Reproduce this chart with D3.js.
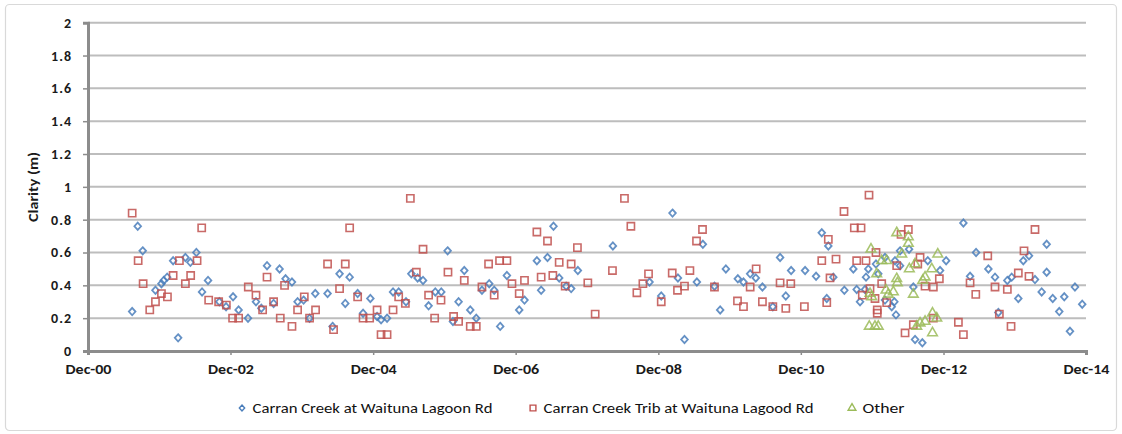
<!DOCTYPE html>
<html>
<head>
<meta charset="utf-8">
<script src="https://cdn.jsdelivr.net/npm/d3@7"></script>
<style>
  html, body { margin: 0; padding: 0; background: #fff; }
  svg { display: block; }
  text { font-family: Carlito, Lato, "Liberation Sans", sans-serif; }
</style>
</head>
<body>
<svg id="chart" width="1122" height="434"></svg>
<script>
// ---- data (dates as decimal years, values in metres) ----
const carranDates = [2001.535,2001.613,2001.683,2001.862,2001.946,2001.978,2002.026,2002.110,2002.180,2002.282,
2002.352,2002.436,2002.516,2002.600,2002.759,2002.853,2002.951,2003.029,2003.161,2003.273,
2003.348,2003.428,2003.520,2003.604,2003.688,2003.778,2003.857,2003.941,2004.025,2004.105,
2004.277,2004.347,2004.445,2004.525,2004.586,2004.698,2004.774,2004.876,2004.970,2005.026,
2005.110,2005.194,2005.273,2005.376,2005.451,2005.539,2005.615,2005.693,2005.787,2005.871,
2005.960,2006.035,2006.114,2006.194,2006.278,2006.362,2006.442,2006.544,2006.614,2006.698,
2006.792,2006.965,2007.039,2007.213,2007.273,2007.362,2007.446,2007.526,2007.624,2007.694,
2007.788,2008.279,2008.792,2008.956,2009.114,2009.190,2009.282,2009.456,2009.540,2009.703,
2009.783,2009.863,2010.031,2010.110,2010.204,2010.283,2010.376,2010.522,2010.624,2010.704,
2010.779,2010.975,2011.129,2011.209,2011.279,2011.301,2011.371,2011.526,2011.652,2011.699,
2011.746,2011.816,2011.830,2011.862,2011.970,2012.002,2012.096,2012.096,2012.190,2012.227,
2012.236,2012.250,2012.307,2012.307,2012.433,2012.493,2012.517,2012.619,2012.695,2012.867,
2012.952,2013.194,2013.288,2013.372,2013.545,2013.638,2013.685,2013.811,2013.872,2013.965,
2014.035,2014.115,2014.199,2014.293,2014.363,2014.363,2014.448,2014.540,2014.610,2014.690,
2014.760,2014.862];
const carranValues = [0.24,0.76,0.61,0.37,0.41,0.43,0.45,0.55,0.08,0.57,
0.54,0.60,0.36,0.43,0.30,0.27,0.33,0.25,0.20,0.30,
0.26,0.52,0.29,0.50,0.44,0.42,0.30,0.31,0.20,0.35,
0.35,0.15,0.47,0.29,0.45,0.35,0.23,0.32,0.21,0.19,
0.20,0.36,0.36,0.30,0.47,0.445,0.43,0.275,0.36,0.36,
0.61,0.18,0.30,0.49,0.25,0.20,0.37,0.41,0.37,0.15,
0.46,0.25,0.31,0.55,0.37,0.57,0.76,0.445,0.395,0.38,
0.49,0.64,0.42,0.335,0.84,0.445,0.07,0.42,0.65,0.395,
0.25,0.50,0.44,0.42,0.47,0.445,0.39,0.27,0.57,0.335,
0.49,0.49,0.455,0.72,0.32,0.64,0.45,0.37,0.50,0.375,
0.30,0.375,0.45,0.50,0.53,0.47,0.57,0.31,0.27,0.30,
0.55,0.22,0.61,0.52,0.62,0.39,0.07,0.05,0.55,0.49,
0.55,0.78,0.455,0.60,0.50,0.45,0.235,0.43,0.45,0.32,
0.55,0.58,0.435,0.36,0.65,0.48,0.32,0.24,0.33,0.12,
0.39,0.285];

const tribDates = [2001.535,2001.619,2001.689,2001.782,2001.862,2001.946,2002.030,2002.110,2002.198,2002.282,
2002.356,2002.446,2002.511,2002.609,2002.749,2002.857,2002.945,2003.029,2003.165,2003.273,
2003.366,2003.428,2003.520,2003.614,2003.674,2003.778,2003.857,2003.951,2004.025,2004.109,
2004.277,2004.361,2004.445,2004.525,2004.586,2004.698,2004.774,2004.866,2004.970,2005.026,
2005.110,2005.194,2005.273,2005.367,2005.437,2005.521,2005.615,2005.693,2005.778,2005.867,
2005.965,2006.044,2006.114,2006.194,2006.278,2006.362,2006.442,2006.535,2006.614,2006.689,
2006.792,2006.863,2006.965,2007.039,2007.213,2007.273,2007.362,2007.437,2007.526,2007.610,
2007.694,2007.782,2007.928,2008.031,2008.273,2008.441,2008.531,2008.615,2008.699,2008.778,
2008.956,2009.110,2009.184,2009.282,2009.358,2009.451,2009.535,2009.703,2010.026,2010.110,
2010.204,2010.288,2010.376,2010.522,2010.624,2010.704,2010.774,2010.965,2011.209,2011.279,
2011.301,2011.325,2011.409,2011.521,2011.666,2011.699,2011.760,2011.778,2011.830,
2011.872,2011.886,2011.956,2011.970,2011.988,2011.988,2012.050,2012.120,2012.260,2012.321,
2012.377,2012.423,2012.493,2012.555,2012.587,2012.657,2012.773,2012.773,2012.857,2013.124,
2013.194,2013.288,2013.368,2013.536,2013.638,2013.699,2013.811,2013.863,2013.965,2014.045,
2014.115,2014.199];
const tribValues = [0.84,0.55,0.41,0.25,0.30,0.35,0.33,0.46,0.55,0.41,
0.46,0.55,0.75,0.31,0.30,0.28,0.20,0.20,0.39,0.34,
0.25,0.45,0.30,0.20,0.40,0.15,0.25,0.33,0.20,0.25,
0.53,0.13,0.38,0.53,0.75,0.33,0.20,0.20,0.25,0.10,
0.10,0.25,0.33,0.29,0.93,0.48,0.62,0.34,0.20,0.31,
0.48,0.21,0.18,0.43,0.15,0.15,0.39,0.53,0.34,0.55,
0.55,0.41,0.35,0.43,0.725,0.45,0.67,0.46,0.54,0.395,
0.53,0.63,0.415,0.225,0.49,0.93,0.76,0.355,0.41,0.47,
0.30,0.475,0.37,0.395,0.49,0.67,0.74,0.39,0.305,0.27,
0.39,0.50,0.30,0.27,0.415,0.26,0.41,0.27,0.55,0.295,
0.68,0.445,0.56,0.85,0.75,0.55,0.75,0.34,0.55,
0.95,0.38,0.32,0.60,0.25,0.23,0.41,0.295,0.52,0.71,
0.11,0.74,0.16,0.53,0.57,0.395,0.39,0.20,0.44,0.175,
0.10,0.415,0.345,0.58,0.39,0.225,0.375,0.15,0.475,0.61,
0.455,0.74];

const otherDates = [2011.876,2011.886,2011.900,2011.910,2011.956,2011.980,2012.002,2012.050,2012.110,2012.120,
2012.142,2012.213,2012.260,2012.260,2012.269,2012.331,2012.423,2012.423,2012.437,2012.493,
2012.517,2012.541,2012.587,2012.625,2012.657,2012.657,2012.751,2012.761,2012.761,2012.821,
2012.835];
const otherValues = [0.15,0.35,0.62,0.33,0.15,0.47,0.15,0.55,0.37,0.55,
0.345,0.36,0.72,0.44,0.415,0.59,0.695,0.655,0.50,0.345,
0.53,0.15,0.17,0.43,0.18,0.45,0.50,0.23,0.11,0.20,
0.59];

const seriesNames = ["Carran Creek at Waituna Lagoon Rd", "Carran Creek Trib at Waituna Lagood Rd", "Other"];
const tickYears = [2000, 2002, 2004, 2006, 2008, 2010, 2012, 2014];
const tickLabels = ["Dec-00", "Dec-02", "Dec-04", "Dec-06", "Dec-08", "Dec-10", "Dec-12", "Dec-14"];
const yTicks = [0, 0.2, 0.4, 0.6, 0.8, 1, 1.2, 1.4, 1.6, 1.8, 2];
const yTitle = "Clarity (m)";

// ---- helpers ----
function decToDate(d) {
  const y = Math.floor(d);
  const s = Date.UTC(y, 0, 1), e = Date.UTC(y + 1, 0, 1);
  return new Date(s + (d - y) * (e - s));
}
const zip = (ds, vs) => ds.map((d, i) => ({ date: decToDate(d), value: vs[i] }));

// Excel-like diamond (almost square, rotated)
const excelDiamond = {
  draw(ctx, size) {
    const r = Math.sqrt(size) / 2;
    ctx.moveTo(0, -r * 1.1); ctx.lineTo(r, 0); ctx.lineTo(0, r * 1.1); ctx.lineTo(-r, 0); ctx.closePath();
  }
};

const svg = d3.select("#chart");
const W = 1122, H = 434;
const plot = { left: 88, right: 1086, top: 22.7, bottom: 351 };

// outer chart border
svg.append("rect").attr("x", 5.5).attr("y", 4.5).attr("width", W - 11).attr("height", H - 8)
  .attr("rx", 4).attr("fill", "#fff").attr("stroke", "#d9d9d9").attr("stroke-width", 1.2);

const x = d3.scaleUtc()
  .domain([new Date(Date.UTC(2000, 11, 1)), new Date(Date.UTC(2014, 11, 1))])
  .range([plot.left, plot.right]);
const y = d3.scaleLinear().domain([0, 2]).range([plot.bottom, plot.top]);

// gridlines
svg.append("g").selectAll("line").data(yTicks.filter(v => v > 0)).join("line")
  .attr("x1", plot.left).attr("x2", plot.right)
  .attr("y1", d => y(d)).attr("y2", d => y(d))
  .attr("stroke", "#bdbdbd").attr("stroke-width", 2);

// y axis
const yAxis = svg.append("g").attr("transform", `translate(${plot.left},0)`)
  .call(d3.axisLeft(y).tickValues(yTicks).tickFormat(d3.format("~g")).tickSize(5).tickPadding(11));
yAxis.select(".domain").attr("stroke", "#8c8c8c").attr("stroke-width", 3);
yAxis.selectAll(".tick line").attr("stroke", "#8c8c8c").attr("stroke-width", 1.5);
yAxis.selectAll(".tick text").attr("font-size", 14).attr("font-weight", "bold").attr("fill", "#1a1a1a")
  .attr("font-family", "Carlito, Lato, sans-serif").style("letter-spacing", "1px");

// x axis
const xTickDates = tickYears.map(yr => new Date(Date.UTC(yr, 11, 1)));
const xAxis = svg.append("g").attr("transform", `translate(0,${plot.bottom})`)
  .call(d3.axisBottom(x).tickValues(xTickDates).tickFormat((d, i) => tickLabels[i]).tickSize(4).tickPadding(9));
xAxis.select(".domain").attr("stroke", "#8c8c8c").attr("stroke-width", 3);
xAxis.selectAll(".tick line").attr("stroke", "#8c8c8c").attr("stroke-width", 1.5);
xAxis.selectAll(".tick text").attr("font-size", 14.5).attr("font-weight", "bold").attr("fill", "#1a1a1a")
  .attr("font-family", "Carlito, Lato, sans-serif")
  .attr("textLength", 46).attr("lengthAdjust", "spacingAndGlyphs");

// y title
svg.append("text").attr("transform", `translate(37.5,187) rotate(-90)`)
  .attr("text-anchor", "middle").attr("font-size", 14.5).attr("font-weight", "bold").attr("fill", "#1a1a1a")
  .attr("textLength", 70).attr("lengthAdjust", "spacingAndGlyphs")
  .text(yTitle);

// series
const styles = [
  { color: "#4a7ebb", symbol: excelDiamond, size: 44, sw: 1.8 },
  { color: "#c0504d", symbol: d3.symbolSquare, size: 52, sw: 1.6 },
  { color: "#9bbb59", symbol: d3.symbolTriangle, size: 40, sw: 1.6 }
];
const seriesData = [zip(carranDates, carranValues), zip(tribDates, tribValues), zip(otherDates, otherValues)];

seriesData.forEach((data, si) => {
  const st = styles[si];
  const sym = d3.symbol().type(st.symbol).size(st.size);
  svg.append("g").selectAll("path").data(data).join("path")
    .attr("transform", d => `translate(${x(d.date)},${y(d.value)})`)
    .attr("d", sym)
    .attr("fill", "none").attr("stroke", st.color).attr("stroke-width", st.sw)
    .attr("stroke-opacity", 0.85);
});

// legend
const legendX = [242, 533, 852];
const legendTextLen = [240, 270, 42];
const legendY = 408;
const lg = svg.append("g");
seriesNames.forEach((name, i) => {
  const st = styles[i];
  lg.append("path")
    .attr("transform", `translate(${legendX[i]},${legendY})`)
    .attr("d", d3.symbol().type(st.symbol).size(st.size * 0.65)())
    .attr("fill", "none").attr("stroke", st.color).attr("stroke-width", 1.4);
  lg.append("text").attr("x", legendX[i] + 10.5).attr("y", legendY + 5)
    .attr("font-size", 15).attr("fill", "#111")
    .attr("textLength", legendTextLen[i]).attr("lengthAdjust", "spacingAndGlyphs")
    .text(name);
});
</script>
</body>
</html>
